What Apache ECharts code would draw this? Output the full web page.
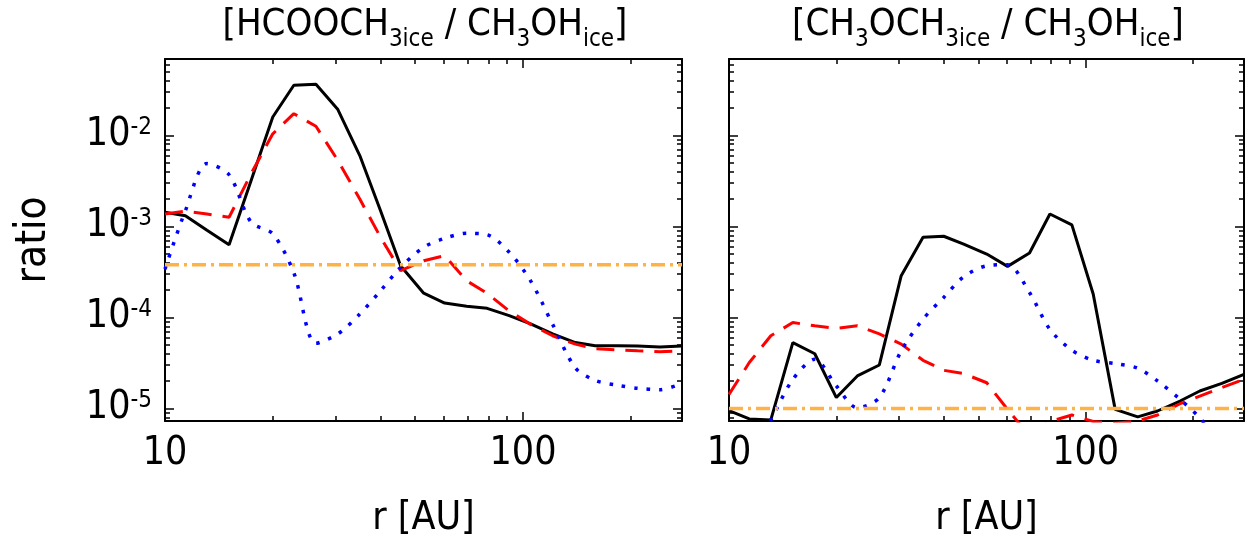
<!DOCTYPE html>
<html>
<head>
<meta charset="utf-8">
<script src="https://cdn.jsdelivr.net/npm/echarts@6/dist/echarts.min.js"></script>
<style>
  html, body { margin: 0; padding: 0; background: #fff; }
  #chart { width: 1254px; height: 544px; }
</style>
</head>
<body>
<div id="chart"></div>
<script>
// radius grid (AU), shared by all curves
const rAU = [10, 11.4, 13.1, 15.1, 17.4, 20, 22.9, 26.4, 30.4, 35, 40, 45.5, 52.8, 60.4,
             69.6, 79.4, 91.5, 105, 121, 140, 159, 184, 209, 241, 278];

// HCOOCH3 ice / CH3OH ice
const hcoBlack = [1.43e-3, 1.31e-3, 9.1e-4, 6.3e-4, 3.2e-3, 1.59e-2, 3.55e-2, 3.64e-2, 1.92e-2, 6.0e-3,
                  1.49e-3, 3.7e-4, 1.85e-4, 1.44e-4, 1.33e-4, 1.26e-4, 1.05e-4, 8.5e-5, 6.6e-5, 5.3e-5,
                  4.9e-5, 4.9e-5, 4.85e-5, 4.75e-5, 4.85e-5];
const hcoRed = [1.37e-3, 1.47e-3, 1.37e-3, 1.26e-3, 3.8e-3, 1.04e-2, 1.73e-2, 1.26e-2, 5.3e-3, 2.0e-3,
                7.6e-4, 3.27e-4, 4.2e-4, 4.77e-4, 2.53e-4, 1.84e-4, 1.18e-4, 8.4e-5, 6.3e-5, 5.1e-5,
                4.56e-5, 4.4e-5, 4.3e-5, 4.2e-5, 4.3e-5];
const hcoBlue = [3.4e-4, 1.49e-3, 4.9e-3, 3.7e-3, 1.11e-3, 8.3e-4, 3.1e-4, 5.2e-5, 6.6e-5, 1.09e-4,
                 1.97e-4, 3.55e-4, 5.9e-4, 7.4e-4, 8.4e-4, 8.1e-4, 5.2e-4, 2.53e-4, 8.4e-5, 2.8e-5,
                 2.04e-5, 1.8e-5, 1.67e-5, 1.61e-5, 1.89e-5];
const hcoRef = 3.8e-4;

// CH3OCH3 ice / CH3OH ice
const dmeBlack = [9.5e-6, 7.7e-6, 7.5e-6, 5.3e-5, 4.0e-5, 1.32e-5, 2.28e-5, 3.01e-5, 2.88e-4, 7.6e-4,
                  7.8e-4, 6.4e-4, 4.98e-4, 3.64e-4, 5.1e-4, 1.37e-3, 1.04e-3, 1.81e-4, 9.8e-6, 8.1e-6,
                  9.4e-6, 1.21e-5, 1.56e-5, 1.89e-5, 2.38e-5];
const dmeRed = [1.43e-5, 3.2e-5, 6.3e-5, 8.8e-5, 8.1e-5, 7.6e-5, 8.1e-5, 6.6e-5, 5.1e-5, 3.39e-5,
                2.63e-5, 2.42e-5, 1.92e-5, 9.8e-6, 5.0e-6, 7.2e-6, 8.5e-6, 7.2e-6, 6.9e-6, 7.3e-6,
                8.5e-6, 1.13e-5, 1.37e-5, 1.7e-5, 2.1e-5];
const dmeBlue = [1.5e-6, 3.0e-6, 7.5e-6, 2.09e-5, 3.48e-5, 1.77e-5, 1.02e-5, 1.32e-5, 4.3e-5, 9.6e-5,
                 1.66e-4, 2.8e-4, 3.7e-4, 3.8e-4, 1.88e-4, 7.4e-5, 4.37e-5, 3.39e-5, 3.12e-5, 2.77e-5,
                 2.01e-5, 1.26e-5, 7.9e-6, 4.0e-6, 2.5e-6];
const dmeRef = 1.0e-5;

// ticks
const xMajorTicks = [10, 100];
const xMinorTicks = [20, 30, 40, 50, 60, 70, 80, 90, 200];
const yMajorTicks = [1e-5, 1e-4, 1e-3, 1e-2];
const yMinorTicks = [8e-6, 9e-6, 2e-5, 3e-5, 4e-5, 5e-5, 6e-5, 7e-5, 8e-5, 9e-5,
                     2e-4, 3e-4, 4e-4, 5e-4, 6e-4, 7e-4, 8e-4, 9e-4,
                     2e-3, 3e-3, 4e-3, 5e-3, 6e-3, 7e-3, 8e-3, 9e-3,
                     2e-2, 3e-2, 4e-2, 5e-2, 6e-2];

const R_MIN = 10, R_MAX = 278;
const Y_MIN = 7.3e-6, Y_MAX = 0.069;

const FONT = '"DejaVu Sans Condensed", "Liberation Sans Narrow", "Liberation Sans", sans-serif';
const TXT = { color: '#000', fontFamily: FONT };
const frameLine = { color: '#000', width: 2 };
const tickLine = { color: '#000', width: 1.5 };

const chart = echarts.init(document.getElementById('chart'));

function xAxesFor(g) {
  const base = {
    type: 'log', logBase: 10, gridIndex: g, min: R_MIN, max: R_MAX,
    splitLine: { show: false },
    axisLine: { onZero: false, lineStyle: frameLine }
  };
  return [
    Object.assign({}, base, {
      position: 'bottom',
      name: 'r [AU]', nameLocation: 'middle', nameGap: 78,
      nameTextStyle: Object.assign({ fontSize: 39 }, TXT),
      axisTick: { inside: true, length: 9, customValues: xMajorTicks, lineStyle: tickLine },
      axisLabel: Object.assign({ customValues: xMajorTicks, margin: 13, fontSize: 39,
        formatter: v => String(Math.round(v)) }, TXT)
    }),
    Object.assign({}, base, {
      position: 'bottom', axisLine: { show: false },
      axisTick: { inside: true, length: 5, customValues: xMinorTicks, lineStyle: tickLine },
      axisLabel: { show: false }
    }),
    Object.assign({}, base, {
      position: 'top',
      axisTick: { inside: true, length: 9, customValues: xMajorTicks, lineStyle: tickLine },
      axisLabel: { show: false }
    }),
    Object.assign({}, base, {
      position: 'top', axisLine: { show: false },
      axisTick: { inside: true, length: 5, customValues: xMinorTicks, lineStyle: tickLine },
      axisLabel: { show: false }
    })
  ];
}

function yAxesFor(g, withLabels) {
  const base = {
    type: 'log', logBase: 10, gridIndex: g, min: Y_MIN, max: Y_MAX,
    splitLine: { show: false },
    axisLine: { onZero: false, lineStyle: frameLine }
  };
  const leftMajor = Object.assign({}, base, {
    position: 'left',
    axisTick: { inside: true, length: 9, customValues: yMajorTicks, lineStyle: tickLine },
    axisLabel: { show: false }
  });
  if (withLabels) {
    leftMajor.name = 'ratio';
    leftMajor.nameLocation = 'middle';
    leftMajor.nameGap = 110;
    leftMajor.nameTextStyle = Object.assign({ fontSize: 42 }, TXT);
    leftMajor.axisLabel = {
      customValues: yMajorTicks, margin: 13,
      formatter: v => '{b|10}{s|' + Math.round(Math.log10(v)) + '}',
      rich: {
        b: Object.assign({ fontSize: 39, lineHeight: 40, verticalAlign: 'top' }, TXT),
        s: Object.assign({ fontSize: 24, lineHeight: 24, verticalAlign: 'top' }, TXT)
      }
    };
  }
  return [
    leftMajor,
    Object.assign({}, base, {
      position: 'left', axisLine: { show: false },
      axisTick: { inside: true, length: 5, customValues: yMinorTicks, lineStyle: tickLine },
      axisLabel: { show: false }
    }),
    Object.assign({}, base, {
      position: 'right',
      axisTick: { inside: true, length: 9, customValues: yMajorTicks, lineStyle: tickLine },
      axisLabel: { show: false }
    }),
    Object.assign({}, base, {
      position: 'right', axisLine: { show: false },
      axisTick: { inside: true, length: 5, customValues: yMinorTicks, lineStyle: tickLine },
      axisLabel: { show: false }
    })
  ];
}

function curve(g, ys, color, type, width, smooth) {
  return {
    type: 'line', xAxisIndex: 4 * g, yAxisIndex: 4 * g,
    data: rAU.map((r, i) => [r, ys[i]]),
    symbol: 'none', smooth: smooth || false, silent: true,
    lineStyle: { color: color, width: width, type: type, cap: 'butt' }
  };
}

function refLine(g, v) {
  return {
    type: 'line', xAxisIndex: 4 * g, yAxisIndex: 4 * g,
    data: [[R_MIN, v], [R_MAX, v]],
    symbol: 'none', silent: true,
    lineStyle: { color: '#ffb347', width: 3.5, type: [14, 5, 3, 5] }
  };
}

function titleRich() {
  return {
    b: Object.assign({ fontSize: 38, lineHeight: 40, verticalAlign: 'top' }, TXT),
    s: Object.assign({ fontSize: 24, lineHeight: 24, verticalAlign: 'top', padding: [22, 0, 0, 0] }, TXT)
  };
}

chart.setOption({
  animation: false,
  backgroundColor: '#fff',
  grid: [
    { left: 165, top: 59, width: 517, height: 362 },
    { left: 729, top: 59, width: 515, height: 362 }
  ],
  xAxis: xAxesFor(0).concat(xAxesFor(1)),
  yAxis: yAxesFor(0, true).concat(yAxesFor(1, false)),
  graphic: [
    { type: 'text', x: 425, y: 6, silent: true,
      style: { text: '{b|[HCOOCH}{s|3ice}{b| / CH}{s|3}{b|OH}{s|ice}{b|]}', rich: titleRich(), align: 'center' } },
    { type: 'text', x: 988, y: 6, silent: true,
      style: { text: '{b|[CH}{s|3}{b|OCH}{s|3ice}{b| / CH}{s|3}{b|OH}{s|ice}{b|]}', rich: titleRich(), align: 'center' } }
  ],
  series: [
    curve(0, hcoBlack, '#000', 'solid', 3),
    curve(0, hcoRed, '#ff0000', [18, 11], 3),
    curve(0, hcoBlue, '#0000ff', [3.5, 9], 3.5, 0.3),
    refLine(0, hcoRef),
    curve(1, dmeBlack, '#000', 'solid', 3),
    curve(1, dmeRed, '#ff0000', [18, 11], 3),
    curve(1, dmeBlue, '#0000ff', [3.5, 9], 3.5, 0.3),
    refLine(1, dmeRef)
  ]
});
</script>
</body>
</html>
